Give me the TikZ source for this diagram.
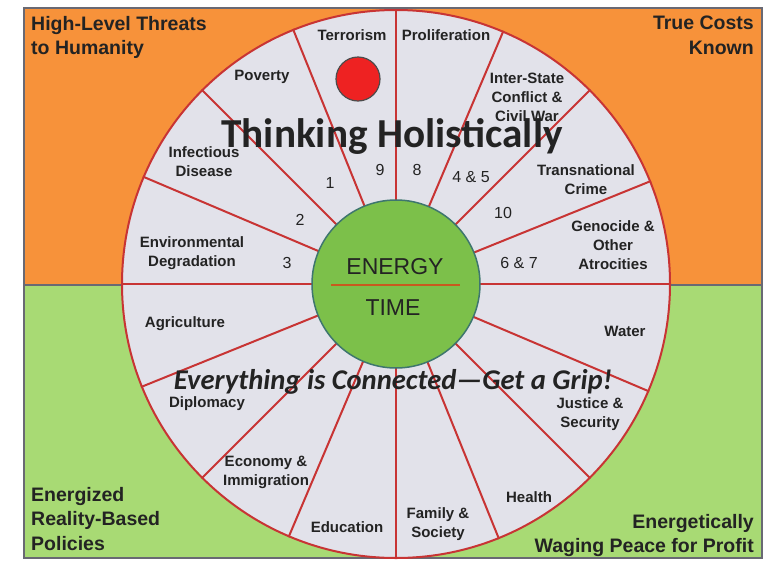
\documentclass[tikz,border=0pt]{standalone}
\usepackage{fontspec}
\setmainfont{Liberation Sans}
\newfontfamily\calfont{Carlito}
\definecolor{bgorange}{RGB}{247,146,58}
\definecolor{bggreen}{RGB}{168,218,116}
\definecolor{segfill}{RGB}{226,226,234}
\definecolor{spokered}{RGB}{200,52,52}
\definecolor{hubgreen}{RGB}{124,192,74}
\definecolor{hubedge}{RGB}{62,118,110}
\definecolor{txt}{RGB}{35,35,35}
\definecolor{framegray}{RGB}{105,105,115}
\definecolor{barbrown}{RGB}{200,90,30}
\definecolor{dotred}{RGB}{238,34,34}
\begin{document}
\begin{tikzpicture}[x=1pt,y=-1pt,
  seg/.style={font=\fontsize{15}{19}\selectfont\bfseries, text=txt, align=center, inner sep=0pt},
  num/.style={font=\fontsize{16}{18}\selectfont, text=txt, inner sep=0pt},
  corner/.style={font=\fontsize{19.5}{24.5}\selectfont\bfseries, text=txt, inner sep=0pt},
  spoke/.style={draw=spokered, line width=2pt}]
\useasboundingbox (0,0) rectangle (766,560);
\fill[white] (0,0) rectangle (766,560);
\fill[bgorange] (24,8) rectangle (762,285);
\fill[bggreen] (24,285) rectangle (762,558);
\draw[framegray, line width=1.2pt] (24,8) rectangle (762,558);
\draw[framegray, line width=1.5pt] (24,285) -- (762,285);
\coordinate (c) at (396,284);
\node[circle, minimum size=548pt, inner sep=0pt, fill=segfill, draw=spokered, line width=2pt] (wheel) at (c) {};
\foreach \a in {0,22.5,...,337.5} \draw[spoke] (c) -- (wheel.\a);
\node[circle, minimum size=168pt, inner sep=0pt, fill=hubgreen, draw=hubedge, line width=1.5pt] (hub) at (c) {};
\coordinate (barl) at (331,285);
\coordinate (barr) at (460,285);
\draw[barbrown, line width=2.2pt] (barl) -- (barr);
\node[font=\fontsize{23}{26}\selectfont, text=txt, inner sep=0pt] (energy) at (395,267) {ENERGY};
\node[font=\fontsize{23}{26}\selectfont, text=txt, inner sep=0pt] (time) at (393,308) {TIME};
\node[circle, minimum size=44pt, inner sep=0pt, fill=dotred, draw=gray!60!black, line width=1.2pt] (dot) at (358,79) {};
% segment labels
\node[seg] (terror) at (352,35) {Terrorism};
\node[seg] (prolif) at (446,35) {Proliferation};
\node[seg] (poverty) at (262,77) {Poverty};
\node[seg] (inter) at (527,97) {Inter-State\\Conflict \&\\Civil War};
\node[seg] (infect) at (204,162) {Infectious\\Disease};
\node[seg] (trans) at (586,180) {Transnational\\Crime};
\node[seg] (env) at (192,253) {Environmental\\Degradation};
\node[seg] (geno) at (613,245) {Genocide \&\\Other\\Atrocities};
\node[seg] (agri) at (185,324) {Agriculture};
\node[seg] (water) at (625,331) {Water};
\node[seg] (diplo) at (207,404) {Diplomacy};
\node[seg] (justice) at (590,414) {Justice \&\\Security};
\node[seg] (econ) at (266,472) {Economy \&\\Immigration};
\node[seg] (health) at (529,497) {Health};
\node[seg] (edu) at (347,527) {Education};
\node[seg] (family) at (438,524) {Family \&\\Society};
% numbers
\node[num] (n9) at (380,170) {9};
\node[num] (n8) at (417,170) {8};
\node[num] (n1) at (330,183) {1};
\node[num] (n45) at (471,177) {4 \& 5};
\node[num] (n2) at (300,220) {2};
\node[num] (n10) at (503,213) {10};
\node[num] (n3) at (287,263) {3};
\node[num] (n67) at (519,263) {6 \& 7};
% big texts
\node[font=\calfont\fontsize{41.2}{45}\selectfont\bfseries, text=txt, inner sep=0pt, anchor=base] (think) at (392,147) {Thinking Holistically};
\node[font=\calfont\fontsize{28.6}{32}\selectfont\bfseries\itshape, text=txt, inner sep=0pt, anchor=base] (every) at (393,389) {Everything is Connected—Get a Grip!};
% corner texts
\node[corner, align=left, anchor=north west] (tl) at (31,16) {High-Level Threats\\to Humanity};
\node[corner, align=right, anchor=north east] (tr) at (754,16) {True Costs\\Known};
\node[corner, align=left, anchor=north west] (bl) at (31,487) {Energized\\Reality-Based\\Policies};
\node[corner, align=right, anchor=north east] (br) at (754,514) {Energetically\\Waging Peace for Profit};
\end{tikzpicture}
\end{document}
